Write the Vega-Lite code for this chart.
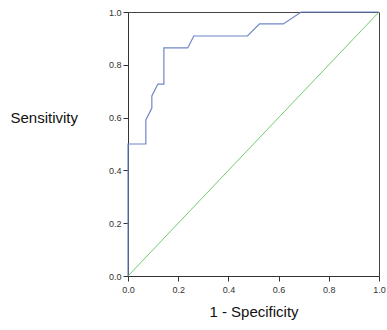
{
  "$schema": "https://vega.github.io/schema/vega-lite/v6.json",
  "width": 251,
  "height": 264,
  "autosize": {"type": "none"},
  "padding": {"left": 128, "top": 12, "right": 8, "bottom": 54},
  "background": "white",
  "config": {
    "view": {"stroke": "#444444", "strokeWidth": 1},
    "axis": {
      "grid": false,
      "labelFlush": false,
      "domainColor": "#333333",
      "tickColor": "#333333",
      "tickSize": 5,
      "labelFont": "Liberation Sans",
      "labelFontSize": 9,
      "labelColor": "#333333",
      "titleFont": "Liberation Sans",
      "titleFontWeight": "normal",
      "titleFontSize": 15,
      "titleColor": "#111111"
    }
  },
  "datasets": {
    "roc": [
      {"i": 0, "fpr": 0, "tpr": 0},
      {"i": 1, "fpr": 0, "tpr": 0.5},
      {"i": 2, "fpr": 0.071, "tpr": 0.5},
      {"i": 3, "fpr": 0.071, "tpr": 0.591},
      {"i": 4, "fpr": 0.095, "tpr": 0.636},
      {"i": 5, "fpr": 0.095, "tpr": 0.682},
      {"i": 6, "fpr": 0.119, "tpr": 0.727},
      {"i": 7, "fpr": 0.143, "tpr": 0.727},
      {"i": 8, "fpr": 0.143, "tpr": 0.864},
      {"i": 9, "fpr": 0.238, "tpr": 0.864},
      {"i": 10, "fpr": 0.262, "tpr": 0.909},
      {"i": 11, "fpr": 0.476, "tpr": 0.909},
      {"i": 12, "fpr": 0.524, "tpr": 0.955},
      {"i": 13, "fpr": 0.619, "tpr": 0.955},
      {"i": 14, "fpr": 0.69, "tpr": 1},
      {"i": 15, "fpr": 1, "tpr": 1}
    ],
    "ref": [
      {"fpr": 0, "tpr": 0},
      {"fpr": 1, "tpr": 1}
    ]
  },
  "layer": [
    {
      "data": {"name": "ref"},
      "mark": {"type": "line", "color": "#6fcc6f", "strokeWidth": 1},
      "encoding": {
        "x": {"field": "fpr", "type": "quantitative", "scale": {"domain": [0, 1]}},
        "y": {"field": "tpr", "type": "quantitative", "scale": {"domain": [0, 1]}}
      }
    },
    {
      "data": {"name": "roc"},
      "mark": {"type": "line", "color": "#6f86c8", "strokeWidth": 1.2, "interpolate": "linear"},
      "encoding": {
        "x": {
          "field": "fpr", "type": "quantitative",
          "scale": {"domain": [0, 1], "nice": false},
          "axis": {"title": "1 - Specificity", "values": [0, 0.2, 0.4, 0.6, 0.8, 1], "format": ".1f", "labelPadding": 4, "titlePadding": 10}
        },
        "y": {
          "field": "tpr", "type": "quantitative",
          "scale": {"domain": [0, 1], "nice": false},
          "axis": {"title": "Sensitivity", "values": [0, 0.2, 0.4, 0.6, 0.8, 1], "format": ".1f", "titleAngle": 0, "titleAlign": "left", "titleBaseline": "middle", "titleX": -118, "titleY": 105}
        },
        "order": {"field": "i", "type": "quantitative"}
      }
    }
  ]
}
